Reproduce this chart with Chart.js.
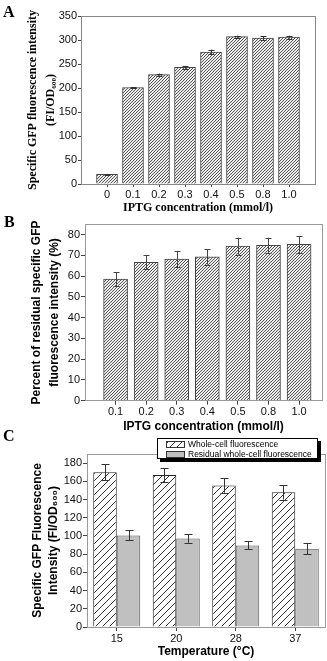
<!DOCTYPE html>
<html>
<head>
<meta charset="utf-8">
<script src="https://cdn.jsdelivr.net/npm/chart.js@4.4.0/dist/chart.umd.min.js"></script>
<style>
  body { margin: 0; background: #fff; width: 327px; height: 661px; position: relative; overflow: hidden; }
  canvas { position: absolute; left: 0; }
  .tag { position: absolute; font: bold 16px "Liberation Serif", "Times New Roman", serif; color: #000; line-height: 1; }
</style>
</head>
<body>
<canvas id="chartA" width="327" height="215" style="top:0"></canvas>
<canvas id="chartB" width="327" height="220" style="top:215px"></canvas>
<canvas id="chartC" width="327" height="226" style="top:435px"></canvas>
<div class="tag" style="left:3px;top:4px">A</div>
<div class="tag" style="left:4px;top:214px">B</div>
<div class="tag" style="left:3px;top:428px">C</div>
<script>
// panel A: specific GFP fluorescence vs IPTG
const iptgA = ['0', '0.1', '0.2', '0.3', '0.4', '0.5', '0.8', '1.0'];
const gfpA = [20, 201, 228, 243, 275, 307, 304, 306];
const gfpAErr = [1, 1, 2, 3, 5, 2, 4, 3];

// panel B: percent residual fluorescence
const iptgB = ['0.1', '0.2', '0.3', '0.4', '0.5', '0.8', '1.0'];
const residualB = [58.6, 66.7, 68.2, 69.3, 74.5, 74.9, 75.3];
const residualBErr = [3.4, 3.3, 4.0, 3.7, 4.1, 3.7, 4.1];

// panel C: temperature
const tempC = ['15', '20', '28', '37'];
const wholeC = [170, 166.8, 155.5, 148];
const wholeCErr = [9, 7.7, 8, 8];
const residualC = [100.6, 97.3, 89.6, 86];
const residualCErr = [5.5, 4.7, 4.4, 6];

const SANS = '"Liberation Sans", Arial, sans-serif';
const SERIF = '"Liberation Serif", "Times New Roman", serif';
Chart.defaults.font.family = SANS;
Chart.defaults.color = '#111';
Chart.defaults.animation = false;

function hatch(bg, fg, gap, lw) {
  const c = document.createElement('canvas');
  c.width = gap; c.height = gap;
  const x = c.getContext('2d');
  x.fillStyle = bg; x.fillRect(0, 0, gap, gap);
  x.strokeStyle = fg; x.lineWidth = lw;
  x.beginPath();
  x.moveTo(0, gap); x.lineTo(gap, 0);
  x.moveTo(-1, 1); x.lineTo(1, -1);
  x.moveTo(gap - 1, gap + 1); x.lineTo(gap + 1, gap - 1);
  x.stroke();
  return x.createPattern(c, 'repeat');
}

const errorBars = {
  id: 'errorBars',
  afterDatasetsDraw(chart, args, opts) {
    const ctx = chart.ctx, ys = chart.scales.y;
    chart.data.datasets.forEach((ds, di) => {
      if (!ds.errors) return;
      const meta = chart.getDatasetMeta(di);
      ctx.save();
      ctx.strokeStyle = opts.color || '#333';
      ctx.lineWidth = 1;
      meta.data.forEach((bar, i) => {
        const v = meta.controller.getParsed(i).y, e = ds.errors[i];
        const x = Math.round(bar.x) + 0.5;
        const t = ys.getPixelForValue(v + e), b = ys.getPixelForValue(v - e);
        ctx.beginPath();
        ctx.moveTo(x, t); ctx.lineTo(x, b);
        ctx.moveTo(x - opts.cap, Math.round(t) + 0.5); ctx.lineTo(x + opts.cap, Math.round(t) + 0.5);
        ctx.moveTo(x - opts.cap, Math.round(b) + 0.5); ctx.lineTo(x + opts.cap, Math.round(b) + 0.5);
        ctx.stroke();
      });
      ctx.restore();
    });
  }
};

const frame = {
  id: 'frame',
  afterDatasetsDraw(chart, args, opts) {
    const a = chart.chartArea, ctx = chart.ctx;
    ctx.save();
    ctx.strokeStyle = opts.color || '#888';
    ctx.lineWidth = 1;
    ctx.strokeRect(Math.round(a.left) + 0.5, Math.round(a.top) + 0.5,
      Math.round(a.right - a.left), Math.round(a.bottom - a.top));
    ctx.restore();
  }
};

const boxLegend = {
  id: 'boxLegend',
  afterDraw(chart, args, opts) {
    if (!opts.box) return;
    const ctx = chart.ctx, [x0, y0, w, h] = opts.box;
    ctx.save();
    ctx.fillStyle = '#000';
    ctx.fillRect(x0 + 3, y0 + 3, w, h);
    ctx.fillStyle = '#fff';
    ctx.fillRect(x0, y0, w, h);
    ctx.strokeStyle = '#000'; ctx.lineWidth = 1;
    ctx.strokeRect(x0 + 0.5, y0 + 0.5, w - 1, h - 1);
    ctx.font = opts.font;
    ctx.textBaseline = 'middle';
    chart.data.datasets.forEach((ds, i) => {
      const cy = y0 + opts.rowTop + i * opts.rowGap;
      ctx.fillStyle = ds.backgroundColor;
      ctx.fillRect(x0 + opts.swatchX, cy - 3, opts.swatchW, 7);
      ctx.strokeStyle = '#333';
      ctx.strokeRect(x0 + opts.swatchX + 0.5, cy - 2.5, opts.swatchW - 1, 6);
      ctx.fillStyle = '#000';
      ctx.fillText(ds.label, x0 + opts.swatchX + opts.swatchW + 3, cy + 0.5);
    });
    ctx.restore();
  }
};

const tickFont = { family: SANS, size: 11 };
const gridOpts = { display: true, drawOnChartArea: false, drawTicks: true, tickLength: 3, color: '#444', offset: false };

// ---- A ----
const stripeDense = hatch('#eeeeee', '#555555', 3, 1);
new Chart(document.getElementById('chartA'), {
  type: 'bar',
  data: {
    datasets: [{
      data: iptgA.map((_, i) => ({ x: i, y: gfpA[i] })),
      errors: gfpAErr,
      backgroundColor: stripeDense,
      borderColor: '#444',
      borderWidth: 1,
      barThickness: 21
    }]
  },
  options: {
    responsive: false,
    layout: { padding: { top: 16, right: 12, left: 0, bottom: 0 } },
    plugins: { legend: { display: false }, tooltip: { enabled: false }, errorBars: { cap: 3, color: '#333' }, frame: { color: '#888' } },
    scales: {
      x: {
        type: 'linear', min: -1, max: 8, offset: false,
        afterBuildTicks: s => { s.ticks = iptgA.map((_, i) => ({ value: i })); },
        ticks: { callback: v => iptgA[v], autoSkip: false, maxRotation: 0, padding: 1, font: tickFont },
        grid: gridOpts, border: { display: false },
        title: { display: true, text: 'IPTG concentration (mmol/l)', color: '#000',
          font: { family: SERIF, size: 12, weight: 'bold' }, padding: { top: 0, bottom: 0 } },
        afterFit: s => { s.height = 31; }
      },
      y: {
        min: 0, max: 350,
        ticks: { stepSize: 50, padding: 1, font: tickFont },
        grid: gridOpts, border: { display: false },
        title: { display: true, text: ['Specific GFP fluorescence intensity', '(FI/OD\u2086\u2080\u2080)'], color: '#000',
          font: { family: SERIF, size: 12, weight: 'bold', lineHeight: 1.45 }, padding: { top: 24.5, bottom: 0 } },
        afterFit: s => { s.width = 81; }
      }
    }
  },
  plugins: [frame, errorBars]
});

// ---- B ----
new Chart(document.getElementById('chartB'), {
  type: 'bar',
  data: {
    datasets: [{
      data: iptgB.map((_, i) => ({ x: i, y: residualB[i] })),
      errors: residualBErr,
      backgroundColor: stripeDense,
      borderColor: '#444',
      borderWidth: 1,
      barThickness: 24
    }]
  },
  options: {
    responsive: false,
    layout: { padding: { top: 9.3, right: 5, left: 0, bottom: 0 } },
    plugins: { legend: { display: false }, tooltip: { enabled: false }, errorBars: { cap: 3, color: '#444' }, frame: { color: '#999' } },
    scales: {
      x: {
        type: 'linear', min: -1, max: 6.75, offset: false,
        afterBuildTicks: s => { s.ticks = iptgB.map((_, i) => ({ value: i })); },
        ticks: { callback: v => iptgB[v], autoSkip: false, maxRotation: 0, padding: 1, font: tickFont },
        grid: { ...gridOpts, tickLength: 4 }, border: { display: false },
        title: { display: true, text: 'IPTG concentration (mmol/l)', color: '#000',
          font: { family: SANS, size: 12, weight: 'bold' }, padding: { top: 0, bottom: 1 } },
        afterFit: s => { s.height = 34.3; }
      },
      y: {
        min: 0, max: 85,
        ticks: { stepSize: 10, includeBounds: false, padding: 1, font: tickFont },
        grid: { ...gridOpts, tickLength: 4 }, border: { display: false },
        title: { display: true, text: ['Percent of residual specific GFP', 'fluorescence intensity (%)'], color: '#000',
          font: { family: SANS, size: 12, weight: 'bold', lineHeight: 1.5 }, padding: { top: 28, bottom: 0 } },
        afterFit: s => { s.width = 85; }
      }
    }
  },
  plugins: [frame, errorBars]
});

// ---- C ----
new Chart(document.getElementById('chartC'), {
  type: 'bar',
  data: {
    labels: tempC,
    datasets: [{
      label: 'Whole-cell fluorescence',
      data: wholeC,
      errors: wholeCErr,
      backgroundColor: hatch('#ffffff', '#333333', 7, 1),
      borderColor: '#222',
      borderWidth: 1,
      categoryPercentage: 0.79,
      barPercentage: 1
    }, {
      label: 'Residual whole-cell fluorescence',
      data: residualC,
      errors: residualCErr,
      backgroundColor: '#c0c0c0',
      borderColor: '#555',
      borderWidth: 1,
      categoryPercentage: 0.79,
      barPercentage: 1
    }]
  },
  options: {
    responsive: false,
    layout: { padding: { top: 19, right: 2, left: 0, bottom: 0 } },
    plugins: {
      legend: { display: false }, tooltip: { enabled: false },
      errorBars: { cap: 4, color: '#333' }, frame: { color: '#999' },
      boxLegend: { box: [157, 3, 161, 21], rowTop: 6, rowGap: 10, swatchX: 9, swatchW: 19, font: '8.5px ' + SANS }
    },
    scales: {
      x: {
        ticks: { padding: 1, font: tickFont },
        grid: { ...gridOpts, tickLength: 4 }, border: { display: false },
        title: { display: true, text: 'Temperature (\u00b0C)', color: '#000',
          font: { family: SANS, size: 12, weight: 'bold' }, padding: { top: 0, bottom: 1.8 } },
        afterFit: s => { s.height = 34; }
      },
      y: {
        min: 0, max: 190,
        ticks: { stepSize: 20, includeBounds: false, padding: 1, font: tickFont },
        grid: { ...gridOpts, tickLength: 4 }, border: { display: false },
        title: { display: true, text: ['Specific GFP Fluorescence', 'Intensity (FI/OD\u2086\u2080\u2080)'], color: '#000',
          font: { family: SANS, size: 12, weight: 'bold', lineHeight: 1.33 }, padding: { top: 30, bottom: 0 } },
        afterFit: s => { s.width = 87; }
      }
    }
  },
  plugins: [frame, errorBars, boxLegend]
});
</script>
</body>
</html>
